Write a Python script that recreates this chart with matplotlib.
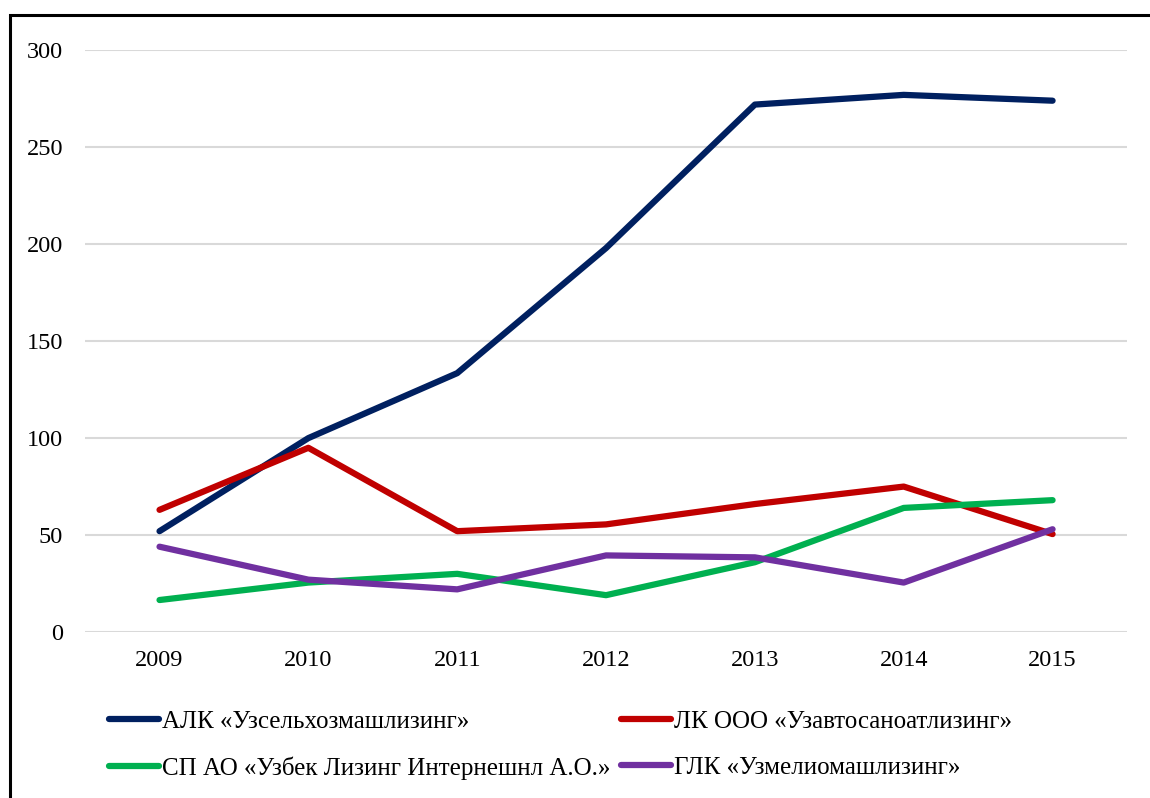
import numpy as np
import matplotlib.pyplot as plt
from matplotlib.patches import Rectangle

plt.rcParams['font.family'] = ['Liberation Serif', 'DejaVu Serif']

years = ['2009', '2010', '2011', '2012', '2013', '2014', '2015']
alk = [52, 100, 133.5, 198, 272, 277, 274]            # АЛК «Узсельхозмашлизинг»
lk = [63, 95, 52, 55.5, 66, 75, 50.5]                 # ЛК ООО «Узавтосаноатлизинг»
sp = [16.5, 25.5, 30, 19, 36, 64, 68]                 # СП АО «Узбек Лизинг Интернешнл А.О.»
glk = [44, 27, 22, 39.5, 38.5, 25.5, 53]              # ГЛК «Узмелиомашлизинг»

labels = ['АЛК «Узсельхозмашлизинг»', 'ЛК ООО «Узавтосаноатлизинг»',
          'СП АО «Узбек Лизинг Интернешнл А.О.»', 'ГЛК «Узмелиомашлизинг»']
colors = ['#002060', '#C00000', '#00B050', '#7030A0']

fig = plt.figure(figsize=(11.5, 7.98), dpi=100)
ax = fig.add_axes([0.074, 0.208, 0.906, 0.729])

x = np.arange(len(years))
lines = []
for vals, lab, col in zip([alk, lk, sp, glk], labels, colors):
    ln, = ax.plot(x, vals, color=col, lw=4.5, label=lab, solid_capstyle='round', solid_joinstyle='round')
    lines.append(ln)

ax.set_xlim(-0.5, 6.5)
ax.set_ylim(0, 300)
ax.set_yticks(np.arange(0, 301, 50))
ax.set_xticks(x)
ax.set_xticklabels(years)
ax.tick_params(axis='both', length=0, labelsize=17.5)
ax.tick_params(axis='y', pad=16)
ax.tick_params(axis='x', pad=13)
ax.grid(axis='y', color='#D9D9D9', lw=1.5)
ax.set_axisbelow(True)
for s in ax.spines.values():
    s.set_visible(False)

# order so rows read: АЛК, ЛК / СП, ГЛК
order = [0, 2, 1, 3]
fig.legend([lines[i] for i in order], [labels[i] for i in order],
           ncol=2, loc='upper left', bbox_to_anchor=(0.095, 0.11), frameon=False,
           fontsize=18, handlelength=2.0, handletextpad=0.12, columnspacing=0.4,
           labelspacing=0.95, borderaxespad=0, borderpad=0)

# outer frame (cut off at right and bottom like the original)
fig.patches.append(Rectangle((10 / 1150, -0.05), 1.1, 1 - 15 / 798 + 0.05,
                             transform=fig.transFigure, fill=False, lw=2.2,
                             edgecolor='black', clip_on=False))

fig.savefig('out.png', dpi=100)
